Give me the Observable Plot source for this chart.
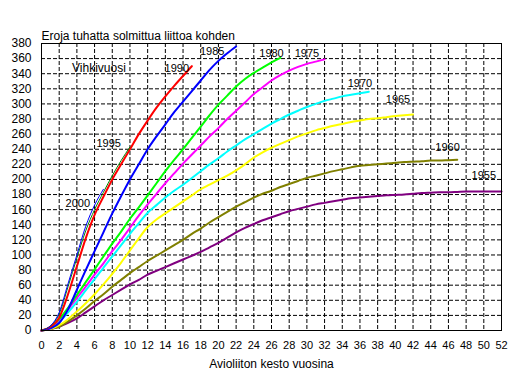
<!DOCTYPE html>
<html><head><meta charset="utf-8">
<script src="https://cdn.jsdelivr.net/npm/d3@7"></script>
<script src="https://cdn.jsdelivr.net/npm/@observablehq/plot@0.6"></script>
<style>body{margin:0;background:#fff;}</style>
</head><body><div id="chart"></div>
<script>
// Duration of marriage (years)
const duration = [0,1,2,3,4,5,6,7,8,9,10,11,12,13,14,15,16,17,18,19,20,21,22,23,24,25,26,27,28,29,30,31,32,33,34,35,36,37,38,39,40,41,42,43,44,45,46,47,48,49,50,51,52];
// Cumulative divorces per 1000 marriages, by marriage cohort
const v1955 = [0,2,5,10,16,24,32,40,47,54,61,67,74,79,84,89,94,99,104,110,116,123,130,136,141,146,150,154,158,161,164,167,169,171,173,175,176,177,178,179,179.5,180,181,182,182.5,183,183,183.5,184,184,184,184,184];
const v1960 = [0,2,5,12,20,29,39,48,58,67,76,84,92,99,106,113,120,128,135,143,150,157,164,170,176,181,185,190,194,198,202,205,208,211,213.5,216,218,219,220,221,222,223,223.5,224,225,225,225.5,226];
const v1965 = [0,2,7,15,25,36,48,61,75,90,106,122,137,147,155,163,171,179,187,193,199,205,212,220,229,236,242,247,252,257,261,265,268,271,273.5,276,278,280,281,282.5,284,285,286];
const v1970 = [0,3,11,24,38,53,68,83,98,113,128,142,156,166,176,185,193,202,211,220,228,237,245,253,260,267,274,280,286,291,296,300,304,307,310,312,314,316];
const v1975 = [0,3,14,28,43,58,74,89,105,120,136,152,167,181,195,208,221,233,245,257,268,280,291,302,313,322,331,338,344,349,353,356,359];
const v1980 = [0,4,15,30,47,64,81,98,115,131,148,163,179,195,211,226,240,255,270,285,299,311,323,333,341,348,355,361];
const v1985 = [0,3,10,28,54,80,105,130,155,178,200,220,240,257,273,289,303,317,331,345,357,367,376];
const v1990 = [0,5,17,48,85,122,153,177,200,220,240,260,278,295,310,324,337,350];
const v1995 = [0,6,22,58,96,132,160,183,205,225,243];
const v2000 = [0,6,24,62,100,138,166,187];

const cohorts = ["1955","1960","1965","1970","1975","1980","1985","1990","1995","2000"];
const seriesValues = [v1955,v1960,v1965,v1970,v1975,v1980,v1985,v1990,v1995,v2000];
const colors = ["#800080","#808000","#ffff00","#00ffff","#ff00ff","#00ff00","#0000ff","#ff0000","#008000","#0000ff"];
const thinCohorts = ["1995","2000"];

// Cohort labels placed in data coordinates
const labelX = [50.0,45.9,40.3,36.0,30.0,26.0,19.3,15.3,7.6,4.1];
const labelY = [205,243,306,327,367,367,369,347,247,168];

const xTicks = [0,2,4,6,8,10,12,14,16,18,20,22,24,26,28,30,32,34,36,38,40,42,44,46,48,50,52];
const yTicks = [0,20,40,60,80,100,120,140,160,180,200,220,240,260,280,300,320,340,360,380];

const titleText = "Eroja tuhatta solmittua liittoa kohden";
const xTitle = "Avioliiton kesto vuosina";
const legendTitle = "Vihkivuosi";

const rows = [];
cohorts.forEach((c, i) => seriesValues[i].forEach((v, j) => rows.push({cohort: c, t: duration[j], v})));
const labels = cohorts.map((c, i) => ({text: c, x: labelX[i], y: labelY[i]}));

const font = "'Liberation Sans', Arial, sans-serif";
const chart = Plot.plot({
  width: 512, height: 375,
  marginLeft: 41, marginRight: 11, marginTop: 43, marginBottom: 45,
  style: {fontFamily: font, fontSize: "11px", color: "#000", background: "#fff"},
  x: {domain: [0, 52]},
  y: {domain: [0, 380]},
  color: {domain: cohorts, range: colors},
  marks: [
    Plot.ruleX(xTicks, {stroke: "#000", strokeDasharray: "4,2"}),
    Plot.ruleY(yTicks, {stroke: "#000", strokeDasharray: "4,2"}),
    Plot.line(rows.filter(d => !thinCohorts.includes(d.cohort)), {x: "t", y: "v", z: "cohort", stroke: "cohort", strokeWidth: 2, curve: "monotone-x"}),
    Plot.line(rows.filter(d => thinCohorts.includes(d.cohort)), {x: "t", y: "v", z: "cohort", stroke: "cohort", strokeWidth: 1, curve: "monotone-x"}),
    Plot.frame({stroke: "#000"}),
    Plot.axisX(xTicks, {tickSize: 0, tickPadding: 11, fontSize: 11, label: null}),
    Plot.axisY(yTicks, {tickSize: 0, tickPadding: 10, fontSize: 12, label: null}),
    Plot.text(labels, {x: "x", y: "y", text: "text", fontSize: 11, fill: "#000"}),
    Plot.text([legendTitle], {x: 3.45, y: 347, textAnchor: "start", fontSize: 12, fill: "#000"}),
    Plot.text([titleText], {frameAnchor: "top-left", dy: -12, textAnchor: "start", fontSize: 12, fill: "#000"}),
    Plot.text([xTitle], {frameAnchor: "bottom", dy: 37, fontSize: 12, fill: "#000"})
  ]
});
document.getElementById("chart").appendChild(chart);
</script>
</body></html>
